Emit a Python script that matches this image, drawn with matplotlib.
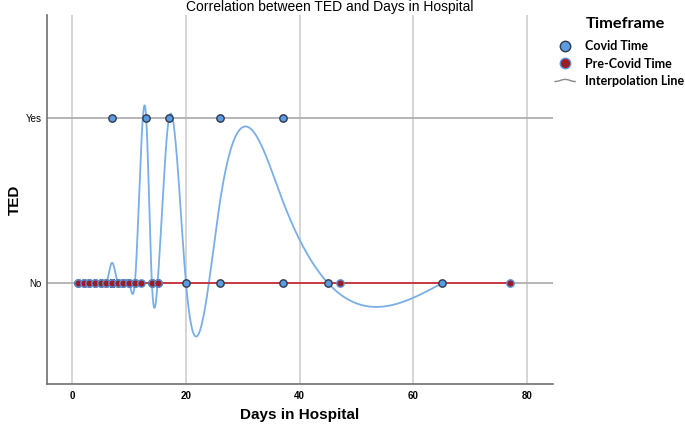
import numpy as np
import matplotlib.pyplot as plt
from matplotlib.lines import Line2D
from matplotlib.legend_handler import HandlerBase

# covid time: days in hospital and TED (0 = No, 1 = Yes)
covid_days = [1, 2, 3, 4, 5, 6, 7, 7, 7, 7, 7, 7, 7, 7, 8, 9, 10, 11, 13, 14, 15, 17, 20, 26, 26, 37, 37, 45, 65]
covid_ted = [0, 0, 0, 0, 0, 0, 1, 0, 0, 0, 0, 0, 0, 0, 0, 0, 0, 0, 1, 0, 0, 1, 0, 1, 0, 1, 0, 0, 0]
# pre-covid time: all No
pre_days = [1, 2, 3, 4, 5, 6, 7, 8, 9, 10, 11, 12, 14, 15, 47, 77]
pre_ted = [0] * len(pre_days)

ted_labels = ['No', 'Yes']
x_ticks = [0, 20, 40, 60, 80]


def mean_by_day(days, vals):
    d = np.array(days, float)
    v = np.array(vals, float)
    ux = np.unique(d)
    return ux, np.array([v[d == u].mean() for u in ux])


def natural_spline(x, y, xs):
    n = len(x)
    if n < 3:
        return np.interp(xs, x, y)
    h = np.diff(x)
    A = np.zeros((n, n))
    b = np.zeros(n)
    A[0, 0] = A[-1, -1] = 1
    for i in range(1, n - 1):
        A[i, i - 1] = h[i - 1]
        A[i, i] = 2 * (h[i - 1] + h[i])
        A[i, i + 1] = h[i]
        b[i] = 3 * ((y[i + 1] - y[i]) / h[i] - (y[i] - y[i - 1]) / h[i - 1])
    c = np.linalg.solve(A, b)
    out = np.empty_like(xs)
    for k, t in enumerate(xs):
        i = min(max(np.searchsorted(x, t) - 1, 0), n - 2)
        dx = t - x[i]
        bb = (y[i + 1] - y[i]) / h[i] - h[i] * (2 * c[i] + c[i + 1]) / 3
        dd = (c[i + 1] - c[i]) / (3 * h[i])
        out[k] = y[i] + bb * dx + c[i] * dx ** 2 + dd * dx ** 3
    return out


class WaveHandler(HandlerBase):
    def create_artists(self, legend, orig_handle, xdescent, ydescent, width, height, fontsize, trans):
        t = np.linspace(0, 1, 40)
        xs = -xdescent + t * width
        ys = -ydescent + height / 2 + 0.12 * height * np.sin(np.pi * (2 * t - 0.5))
        ln = Line2D(xs, ys, color=orig_handle.get_color(), lw=orig_handle.get_linewidth(), transform=trans)
        return [ln]


fig = plt.figure(figsize=(6.85, 4.28), dpi=100)
ax = fig.add_axes([0.069, 0.103, 0.738, 0.862])

red_line = '#c8323c'

# interpolation lines
cx, cy = mean_by_day(covid_days, covid_ted)
xs = np.linspace(cx[0], cx[-1], 2000)
ax.plot(xs, natural_spline(cx, cy, xs), color='#7aaee8', lw=1.3, zorder=2)
px, py = mean_by_day(pre_days, pre_ted)
ax.plot(px, py, color=red_line, lw=1.3, zorder=3)

ax.scatter(covid_days, covid_ted, s=28, c='#5b9be0', edgecolors='#2f3b4c', linewidths=1.0, zorder=4)
ax.scatter(pre_days, pre_ted, s=28, c='#9b1c24', edgecolors='#5b8fd6', linewidths=1.0, zorder=5)

ax.set_xlim(-4.4, 84.5)
ax.set_ylim(-0.61, 1.626)
ax.set_xticks(x_ticks)
ax.set_xticklabels([str(t) for t in x_ticks], fontsize=7, fontweight='bold', family='Liberation Sans')
ax.set_yticks([0, 1])
ax.set_yticklabels(ted_labels, fontsize=7, family='Liberation Sans')
ax.tick_params(axis='x', length=0, pad=5)
ax.tick_params(axis='y', length=0, pad=4)

for t in x_ticks:
    ax.axvline(t, color='#d2d2d2', lw=1.3, zorder=0)
for t in [0, 1]:
    ax.axhline(t, color='#b0b0b0', lw=1.3, zorder=1)

for s in ['top', 'right']:
    ax.spines[s].set_visible(False)
for s in ['left', 'bottom']:
    ax.spines[s].set_color('#707070')
    ax.spines[s].set_linewidth(1.2)

ax.set_xlabel('Days in Hospital', fontsize=11, fontweight='bold', family='Liberation Sans', labelpad=5)
ax.set_ylabel('TED', fontsize=11, fontweight='bold', family='Liberation Sans', labelpad=3)
fig.text(0.482, 0.984, 'Correlation between TED and Days in Hospital', ha='center', va='center',
         fontsize=10, family='Liberation Sans')

# legend
fig.text(0.855, 0.944, 'Timeframe', fontsize=11.8, fontweight='bold', family='Lato', va='center')
handles = [
    Line2D([], [], ls='none', marker='o', ms=7.5, mfc='#5b9be0', mec='#2f3b4c', mew=1),
    Line2D([], [], ls='none', marker='o', ms=7.5, mfc='#9b1c24', mec='#5b8fd6', mew=1),
    Line2D([], [], color='#8a8a8a', lw=1),
]
leg = fig.legend(handles, ['Covid Time', 'Pre-Covid Time', 'Interpolation Line'], loc='upper left',
                 bbox_to_anchor=(0.794, 0.932), frameon=False, handlelength=1.6, handletextpad=0.8,
                 labelspacing=0.42, prop={'family': 'Lato', 'weight': 'bold', 'size': 9},
                 handler_map={handles[2]: WaveHandler()})

fig.savefig('out.png', dpi=100)
